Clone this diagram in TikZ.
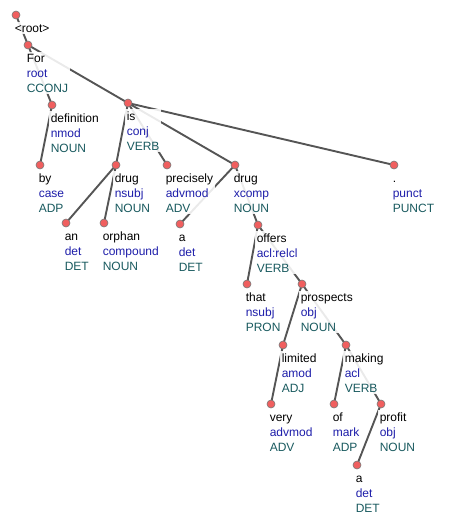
\documentclass[tikz,border=0pt]{standalone}
\usepackage{fontspec}
\setmainfont{Liberation Sans}
\usetikzlibrary{backgrounds,fit}
\pgfdeclarelayer{halo}
\pgfsetlayers{background,halo,main}
\definecolor{relblue}{RGB}{30,30,170}
\definecolor{posteal}{RGB}{25,90,95}
\definecolor{dotred}{RGB}{240,95,95}
\definecolor{edgegray}{RGB}{85,85,85}
\tikzset{
  tok/.style={circle, draw=edgegray!80, fill=dotred, inner sep=0pt, minimum size=8pt, line width=0.6pt},
  lbl/.style={anchor=base west, inner sep=0.6pt, font=\fontsize{12}{14}\selectfont},
  halobox/.style={fill=white, fill opacity=0.88, inner sep=1.2pt},
  dep/.style={draw=edgegray, line width=1.9pt}
}
\begin{document}
\begin{tikzpicture}[x=1pt, y=-1pt, line cap=round]
\useasboundingbox (0,0) rectangle (448,515);
% tokens
\foreach \n/\x/\y in {root/16/15, For/28/45, definition/52/105, is/128/103, by/40/165,
  drugA/116/165, precisely/167/165, drugB/235/165, punct/394/165, an/66/223,
  orphan/104/223, aA/180/224, offers/258/225, that/247/284, prospects/302/284,
  limited/283/345, making/346/345, very/271/404, of/334/404, profit/381/404, aB/357/465}
  \node[tok] (\n) at (\x,\y) {};
% arcs
\begin{scope}[on background layer]
\foreach \h/\d in {root/For, For/definition, For/is, definition/by, is/drugA, is/precisely,
  is/drugB, is/punct, drugA/an, drugA/orphan, drugB/aA, drugB/offers, offers/that,
  offers/prospects, prospects/limited, prospects/making, limited/very, making/of,
  making/profit, profit/aB}
  \draw[dep] (\h.center) -- (\d.center);
\end{scope}
% labels
\node[lbl] (root-w) at ([xshift=-2pt, yshift=-17pt]root.center) {<root>};
\begin{pgfonlayer}{halo}
\node[halobox, fit=(root-w)] (root-box) {};
\end{pgfonlayer}
\foreach \n/\w/\r/\p in {For/For/root/CCONJ, definition/definition/nmod/NOUN, is/is/conj/VERB,
  by/by/case/ADP, drugA/drug/nsubj/NOUN, precisely/precisely/advmod/ADV, drugB/drug/xcomp/NOUN,
  punct/./punct/PUNCT, an/an/det/DET, orphan/orphan/compound/NOUN, aA/a/det/DET,
  offers/offers/acl:relcl/VERB, that/that/nsubj/PRON, prospects/prospects/obj/NOUN,
  limited/limited/amod/ADJ, making/making/acl/VERB, very/very/advmod/ADV, of/of/mark/ADP,
  profit/profit/obj/NOUN, aB/a/det/DET}{
  \node[lbl] (\n-w) at ([xshift=-2pt, yshift=-17pt]\n.center) {\w};
  \node[lbl, text=relblue] (\n-r) at ([xshift=-2pt, yshift=-32pt]\n.center) {\r};
  \node[lbl, text=posteal] (\n-p) at ([xshift=-2pt, yshift=-47pt]\n.center) {\p};
  \begin{pgfonlayer}{halo}
  \node[halobox, fit=(\n-w)(\n-r)(\n-p)] (\n-box) {};
  \end{pgfonlayer}
}
\end{tikzpicture}
\end{document}
